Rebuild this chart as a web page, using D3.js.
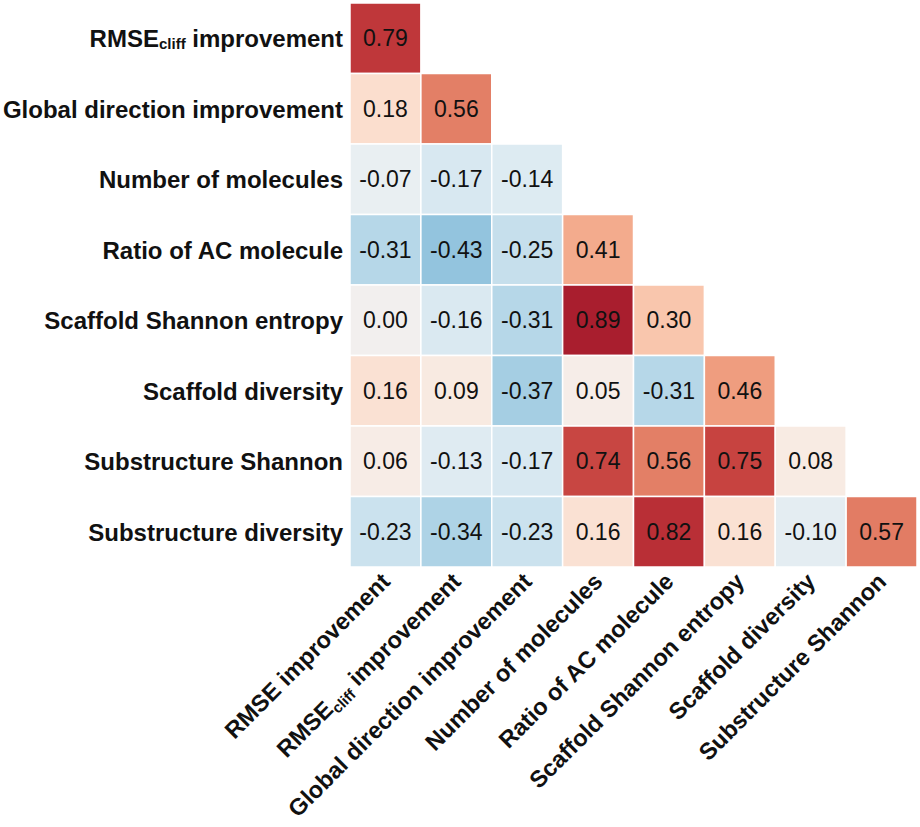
<!DOCTYPE html>
<html><head><meta charset="utf-8">
<script src="https://cdn.jsdelivr.net/npm/d3@7"></script>
<style>
body{margin:0;background:#fff;}
text{font-family:"Liberation Sans",Arial,Helvetica,sans-serif;}
</style></head>
<body><svg id="c" width="920" height="827"></svg>
<script>
const rowLabels = [
  ["RMSE","cliff"," improvement"],
  ["Global direction improvement"],
  ["Number of molecules"],
  ["Ratio of AC molecule"],
  ["Scaffold Shannon entropy"],
  ["Scaffold diversity"],
  ["Substructure Shannon"],
  ["Substructure diversity"]
];
const colLabels = [
  ["RMSE improvement"],
  ["RMSE","cliff"," improvement"],
  ["Global direction improvement"],
  ["Number of molecules"],
  ["Ratio of AC molecule"],
  ["Scaffold Shannon entropy"],
  ["Scaffold diversity"],
  ["Substructure Shannon"]
];
const values = [
  [0.79],
  [0.18, 0.56],
  [-0.07, -0.17, -0.14],
  [-0.31, -0.43, -0.25, 0.41],
  [0.00, -0.16, -0.31, 0.89, 0.30],
  [0.16, 0.09, -0.37, 0.05, -0.31, 0.46],
  [0.06, -0.13, -0.17, 0.74, 0.56, 0.75, 0.08],
  [-0.23, -0.34, -0.23, 0.16, 0.82, 0.16, -0.10, 0.57]
];

(function(){
const svg = d3.select("#c");
const mLeft = 350, mTop = 3, mRight = 917, mBottom = 567;
const x = d3.scaleBand().domain(d3.range(colLabels.length)).range([mLeft, mRight]);
const y = d3.scaleBand().domain(d3.range(rowLabels.length)).range([mTop, mBottom]);
const cmax = 1.1;
const color = d3.scaleSequential(v => d3.interpolateRdBu(1 - v)).domain([-cmax, cmax]);

const cells = [];
values.forEach((row, i) => row.forEach((v, j) => cells.push({i, j, v})));

const g = svg.append("g");
g.selectAll("rect").data(cells).enter().append("rect")
  .attr("x", d => x(d.j)).attr("y", d => y(d.i))
  .attr("width", x.bandwidth()).attr("height", y.bandwidth())
  .attr("fill", d => color(d.v))
  .attr("stroke", "#fff").attr("stroke-width", 1.5);

g.selectAll("text.val").data(cells).enter().append("text")
  .attr("class", "val")
  .attr("x", d => x(d.j) + x.bandwidth() / 2)
  .attr("y", d => y(d.i) + y.bandwidth() / 2)
  .attr("text-anchor", "middle").attr("dominant-baseline", "central")
  .attr("font-size", 23).attr("fill", "#111")
  .text(d => d.v.toFixed(2));

function addParts(t, parts) {
  parts.forEach((p, k) => {
    const ts = t.append("tspan").text(p);
    if (parts.length === 3 && k === 1) ts.attr("font-size", 15).attr("dy", 5);
    if (parts.length === 3 && k === 2) ts.attr("dy", -5);
  });
}

rowLabels.forEach((parts, i) => {
  const t = svg.append("text")
    .attr("x", 343).attr("y", y(i) + y.bandwidth() / 2)
    .attr("text-anchor", "end").attr("dominant-baseline", "central")
    .attr("font-weight", "bold").attr("font-size", 24).attr("fill", "#111");
  addParts(t, parts);
});

colLabels.forEach((parts, j) => {
  const cx = x(j) + x.bandwidth() / 2 + 6;
  const cy = 583;
  const t = svg.append("text")
    .attr("transform", `translate(${cx},${cy}) rotate(-45)`)
    .attr("text-anchor", "end")
    .attr("font-weight", "bold").attr("font-size", 23.5).attr("fill", "#111");
  addParts(t, parts);
});
})();
</script></body></html>
